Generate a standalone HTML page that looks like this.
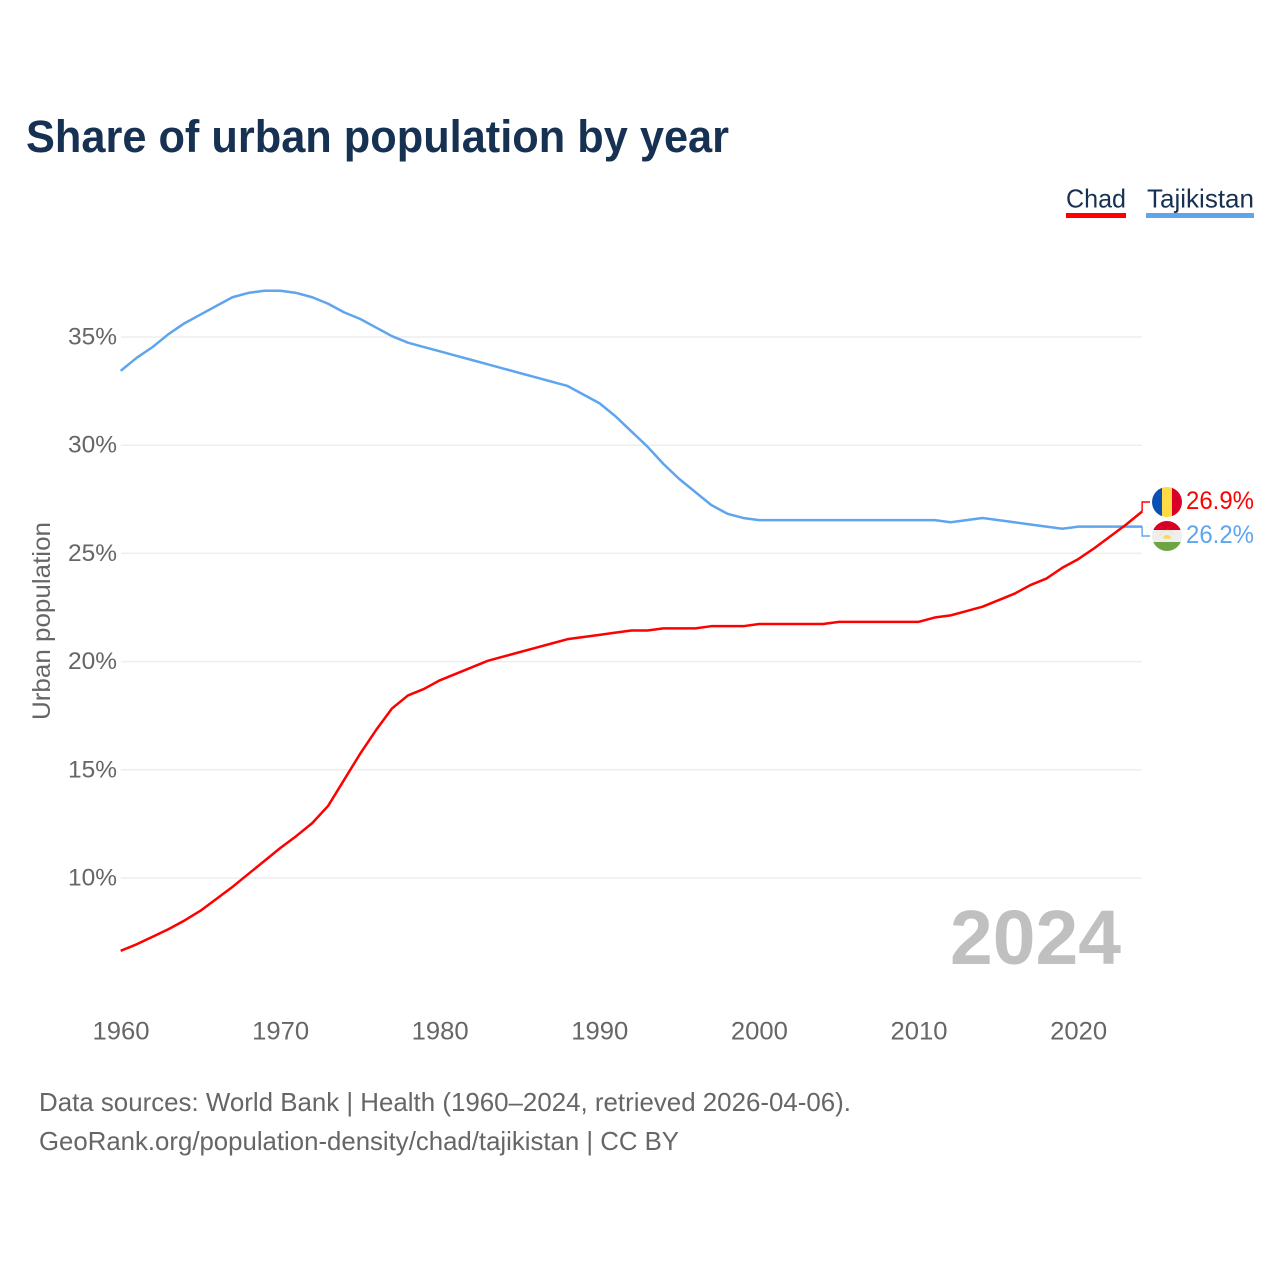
<!DOCTYPE html>
<html>
<head>
<meta charset="utf-8">
<title>Share of urban population by year</title>
<style>
html,body{margin:0;padding:0;background:#fff;width:1280px;height:1280px;overflow:hidden}
svg{display:block}
text{font-family:"Liberation Sans",sans-serif}
</style>
</head>
<body>
<svg id="chart" width="1280" height="1280" viewBox="0 0 1280 1280" xmlns="http://www.w3.org/2000/svg">
  <rect width="1280" height="1280" fill="#fff"/>
  <text x="26" y="152" font-size="45" font-weight="700" fill="#173153" textLength="703" lengthAdjust="spacingAndGlyphs">Share of urban population by year</text>

  <g>
    <text x="1066" y="207.500" font-size="26" fill="#173153" textLength="60" lengthAdjust="spacingAndGlyphs">Chad</text>
    <rect x="1066" y="213" width="60" height="5" fill="#ff0000"/>
  </g>
  <g>
    <text x="1147" y="207.500" font-size="26" fill="#173153" textLength="107" lengthAdjust="spacingAndGlyphs">Tajikistan</text>
    <rect x="1146" y="213" width="108" height="5" fill="#5ea5ee"/>
  </g>

  <g id="grid"></g>
  <g id="yticks"></g>
  <g id="xticks"></g>
  <text transform="translate(50,621) rotate(-90)" text-anchor="middle" font-size="25" fill="#666" textLength="198" lengthAdjust="spacingAndGlyphs">Urban population</text>

  <text x="1121" y="964" text-anchor="end" font-size="77" font-weight="700" fill="#c0c0c0" textLength="171" lengthAdjust="spacingAndGlyphs">2024</text>

  <g id="series"></g>
  <g id="ends"></g>

  <g>
    <clipPath id="clip-chad"><circle cx="1167" cy="502" r="15"/></clipPath>
    <g clip-path="url(#clip-chad)">
      <rect x="1152" y="487" width="10" height="30" fill="#0a50b4"/>
      <rect x="1162" y="487" width="10" height="30" fill="#ffda44"/>
      <rect x="1172" y="487" width="10" height="30" fill="#d80027"/>
    </g>
  </g>
  <g>
    <clipPath id="clip-tj"><circle cx="1167" cy="536" r="15"/></clipPath>
    <g clip-path="url(#clip-tj)">
      <rect x="1152" y="521" width="30" height="9" fill="#d80027"/>
      <rect x="1152" y="530" width="30" height="12" fill="#eeeeee"/>
      <rect x="1152" y="542" width="30" height="10" fill="#6da544"/>
      <path d="M1163 538.500 a4 3.500 0 0 1 8 0 z" fill="#ffda44"/>
      <path d="M1160 535 a7.500 7.500 0 0 1 14 0" fill="none" stroke="#f3d98a" stroke-width="1" stroke-dasharray="1.500 1.500"/>
    </g>
  </g>

  <text x="39" y="1111" font-size="26" fill="#666" textLength="812" lengthAdjust="spacingAndGlyphs">Data sources: World Bank | Health (1960–2024, retrieved 2026-04-06).</text>
  <text x="39" y="1150" font-size="26" fill="#666" textLength="640" lengthAdjust="spacingAndGlyphs">GeoRank.org/population-density/chad/tajikistan | CC BY</text>
</svg>
<script>
const startYear = 1960;
const yTickValues = [10, 15, 20, 25, 30, 35];
const yTickLabels = ['10%', '15%', '20%', '25%', '30%', '35%'];
const xTickValues = [1960, 1970, 1980, 1990, 2000, 2010, 2020];
const xTickLabels = ['1960', '1970', '1980', '1990', '2000', '2010', '2020'];
const chadValues = [6.6,6.9,7.25,7.6,8.0,8.45,9.0,9.55,10.15,10.75,11.35,11.9,12.5,13.3,14.5,15.7,16.8,17.8,18.4,18.7,19.1,19.4,19.7,20.0,20.2,20.4,20.6,20.8,21.0,21.1,21.2,21.3,21.4,21.4,21.5,21.5,21.5,21.6,21.6,21.6,21.7,21.7,21.7,21.7,21.7,21.8,21.8,21.8,21.8,21.8,21.8,22.0,22.1,22.3,22.5,22.8,23.1,23.5,23.8,24.3,24.7,25.2,25.75,26.3,26.9];
const tajikistanValues = [33.4,34.0,34.5,35.1,35.6,36.0,36.4,36.8,37.0,37.1,37.1,37.0,36.8,36.5,36.1,35.8,35.4,35.0,34.7,34.5,34.3,34.1,33.9,33.7,33.5,33.3,33.1,32.9,32.7,32.3,31.9,31.3,30.6,29.9,29.1,28.4,27.8,27.2,26.8,26.6,26.5,26.5,26.5,26.5,26.5,26.5,26.5,26.5,26.5,26.5,26.5,26.5,26.4,26.5,26.6,26.5,26.4,26.3,26.2,26.1,26.2,26.2,26.2,26.2,26.2];
const chadEndLabel = '26.9%';
const tajikistanEndLabel = '26.2%';

const NS = 'http://www.w3.org/2000/svg';
function xScale(year) { return 120.7 + (year - startYear) * 15.96; }
function yScale(v) { return 337 + (35 - v) * 21.64; }
function ySeries(v) { return yScale(v) - 0.8; }
function make(tag, attrs, parent) {
  const el = document.createElementNS(NS, tag);
  for (const k in attrs) el.setAttribute(k, attrs[k]);
  parent.appendChild(el);
  return el;
}
const grid = document.getElementById('grid');
const yticks = document.getElementById('yticks');
const xticks = document.getElementById('xticks');
const series = document.getElementById('series');
const ends = document.getElementById('ends');

yTickValues.forEach(function (v, i) {
  const y = yScale(v);
  const line = make('line', {x1: 121, x2: 1142, y1: y, y2: y, stroke: '#eeeeee', 'stroke-width': 1.5}, grid);
  
  
  const t = make('text', {x: 117, y: y + 7.5, 'text-anchor': 'end', 'font-size': 24, fill: '#666', textLength: 49, lengthAdjust: 'spacingAndGlyphs'}, yticks);
  
  
  t.textContent = yTickLabels[i];
});

xTickValues.forEach(function (yr, i) {
  const t = make('text', {x: xScale(yr) + 0.3, y: 1039.5, 'text-anchor': 'middle', 'font-size': 25, fill: '#666', textLength: 57, lengthAdjust: 'spacingAndGlyphs'}, xticks);
  
  
  t.textContent = xTickLabels[i];
});

function drawSeries(values, color, name) {
  const pts = values.map(function (v, i) { return xScale(startYear + i).toFixed(2) + ',' + ySeries(v).toFixed(2); }).join(' ');
  const line = make('polyline', {points: pts, fill: 'none', stroke: color, 'stroke-width': 2.5, 'stroke-linejoin': 'round'}, series);
  
  
}
drawSeries(tajikistanValues, '#5ea5ee', 'line-tajikistan');
drawSeries(chadValues, '#ff0000', 'line-chad');

function drawEnd(values, color, labelY, label, connectorName, labelName) {
  const last = values[values.length - 1];
  const x = xScale(startYear + values.length - 1);
  const y = ySeries(last);
  const path = make('polyline', {points: x + ',' + y + ' ' + x + ',' + labelY + ' 1150,' + labelY, fill: 'none', stroke: color, 'stroke-width': 1.4}, ends);
  
  
  const t = make('text', {x: 1186, y: labelY + 7, 'font-size': 25, fill: color, textLength: 68, lengthAdjust: 'spacingAndGlyphs'}, ends);
  
  
  t.textContent = label;
}
drawEnd(chadValues, '#ff0000', 502, chadEndLabel, 'connector-chad', 'end-label-chad');
drawEnd(tajikistanValues, '#5ea5ee', 536, tajikistanEndLabel, 'connector-tajikistan', 'end-label-tajikistan');
</script>
</body>
</html>
